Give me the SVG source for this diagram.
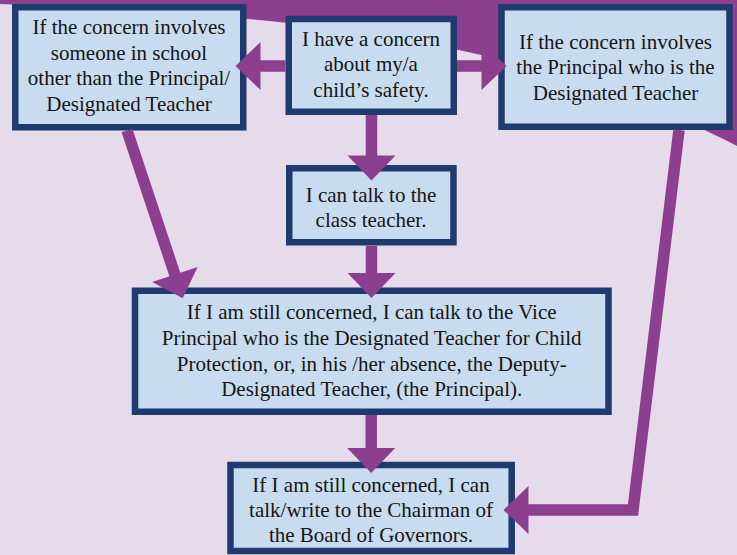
<svg xmlns="http://www.w3.org/2000/svg" width="737" height="555" viewBox="0 0 737 555">
<style>
.box{fill:#c9dcef;stroke:#1f3a6f;stroke-width:6.5}
.t{font-size:21px;fill:#151515;text-anchor:middle}
.c{fill:none;stroke:#8c3f8e;stroke-width:11.5;stroke-linejoin:miter;marker-end:url(#ah)}
</style>
<defs>
<marker id="ah" markerUnits="userSpaceOnUse" markerWidth="26" markerHeight="48" viewBox="0 0 25 48" refX="0.5" refY="24" orient="auto" overflow="visible">
<path d="M0,0 L25,24 L0,48 Z" fill="#8c3f8e"/>
</marker>
</defs>
<rect x="0" y="0" width="737" height="555" fill="#e6dbea"/>
<path d="M0,0 L737,0 L737,146 C560,55 350,15 0,4 Z" fill="#8c3f8e"/>
<g font-family="Liberation Serif, DejaVu Serif, serif">
<g id="n1"><rect class="box" x="15.25" y="7.25" width="228" height="120"/>
<text class="t" x="129" y="34">If the concern involves</text>
<text class="t" x="129" y="59.7">someone in school</text>
<text class="t" x="129" y="85.4">other than the Principal/</text>
<text class="t" x="129" y="111">Designated Teacher</text></g>
<g id="n2"><rect class="box" x="288.75" y="19" width="165" height="92.75"/>
<text class="t" x="371" y="45.5">I have a concern</text>
<text class="t" x="371" y="71.3">about my/a</text>
<text class="t" x="371" y="97">child’s safety.</text></g>
<g id="n3"><rect class="box" x="501.5" y="7.25" width="228" height="119.5"/>
<text class="t" x="615.5" y="48.5">If the concern involves</text>
<text class="t" x="615.5" y="74">the Principal who is the</text>
<text class="t" x="615.5" y="99.7">Designated Teacher</text></g>
<g id="n4"><rect class="box" x="289.25" y="168.25" width="164.2" height="74"/>
<text class="t" x="371" y="201.7">I can talk to the</text>
<text class="t" x="371" y="227.3">class teacher.</text></g>
<g id="n5"><rect class="box" x="135" y="290.75" width="473.5" height="121"/>
<text class="t" x="371.7" y="319">If I am still concerned, I can talk to the Vice</text>
<text class="t" x="371.7" y="345">Principal who is the Designated Teacher for Child</text>
<text class="t" x="371.7" y="370.7">Protection, or, in his /her absence, the Deputy-</text>
<text class="t" x="371.7" y="396">Designated Teacher, (the Principal).</text></g>
<g id="n6"><rect class="box" x="230.5" y="465" width="281.2" height="86"/>
<text class="t" x="371" y="492.3">If I am still concerned, I can</text>
<text class="t" x="371" y="517.3">talk/write to the Chairman of</text>
<text class="t" x="371" y="542.3">the Board of Governors.</text></g>
</g>
<g id="connectors">
<path class="c" d="M285.5,66 L260,66"/>
<path class="c" d="M457,66 L482,66"/>
<path class="c" d="M371.5,115 L371.5,156"/>
<path class="c" d="M371.5,245.7 L371.5,273.5"/>
<path class="c" d="M371.2,415 L371.2,448.5"/>
<path class="c" d="M127,130.5 L175,275"/>
<path class="c" d="M679,130 L633,510 L528,510"/>
</g>
</svg>
